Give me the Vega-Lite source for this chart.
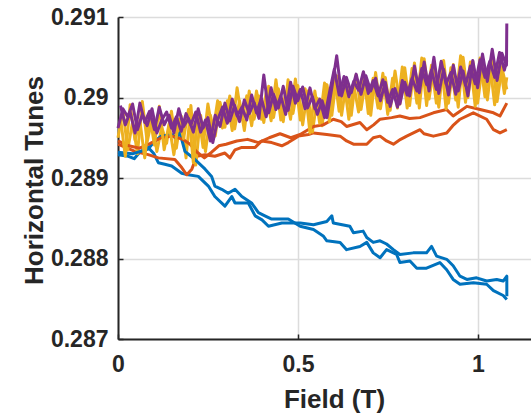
{
  "$schema": "https://vega.github.io/schema/vega-lite/v6.json",
  "autosize": "none",
  "width": 413,
  "height": 322,
  "padding": {"left": 118, "top": 17, "right": 0, "bottom": 75},
  "background": "white",
  "view": {"stroke": null},
  "config": {
    "font": "Liberation Sans",
    "axis": {
      "domainColor": "#262626", "domainWidth": 2,
      "gridColor": "#dcdcdc", "gridWidth": 1.5,
      "tickColor": "#262626", "tickWidth": 1.5, "tickSize": -5,
      "labelColor": "#262626", "labelFont": "Liberation Sans", "labelFontWeight": "bold", "labelFontSize": 23,
      "titleColor": "#262626", "titleFont": "Liberation Sans", "titleFontWeight": "bold", "titleFontSize": 26
    }
  },
  "datasets": {
    "d": [
      {"t":"B1","x":0.000,"y":0.28929},{"t":"B1","x":0.029,"y":0.28927},{"t":"B1","x":0.045,"y":0.28924},{"t":"B1","x":0.060,"y":0.28932},{"t":"B1","x":0.084,"y":0.28938},{"t":"B1","x":0.100,"y":0.28930},{"t":"B1","x":0.112,"y":0.28919},{"t":"B1","x":0.130,"y":0.28917},{"t":"B1","x":0.149,"y":0.28915},{"t":"B1","x":0.177,"y":0.28906},{"t":"B1","x":0.195,"y":0.28904},{"t":"B1","x":0.223,"y":0.28902},{"t":"B1","x":0.251,"y":0.28890},{"t":"B1","x":0.269,"y":0.28877},{"t":"B1","x":0.297,"y":0.28865},{"t":"B1","x":0.316,"y":0.28877},{"t":"B1","x":0.325,"y":0.28869},{"t":"B1","x":0.362,"y":0.28869},{"t":"B1","x":0.381,"y":0.28853},{"t":"B1","x":0.400,"y":0.28848},{"t":"B1","x":0.418,"y":0.28840},{"t":"B1","x":0.455,"y":0.28844},{"t":"B1","x":0.506,"y":0.28844},{"t":"B1","x":0.543,"y":0.28842},{"t":"B1","x":0.580,"y":0.28846},{"t":"B1","x":0.594,"y":0.28853},{"t":"B1","x":0.598,"y":0.28844},{"t":"B1","x":0.644,"y":0.28840},{"t":"B1","x":0.654,"y":0.28832},{"t":"B1","x":0.681,"y":0.28834},{"t":"B1","x":0.691,"y":0.28826},{"t":"B1","x":0.709,"y":0.28820},{"t":"B1","x":0.728,"y":0.28822},{"t":"B1","x":0.746,"y":0.28818},{"t":"B1","x":0.765,"y":0.28811},{"t":"B1","x":0.783,"y":0.28805},{"t":"B1","x":0.820,"y":0.28807},{"t":"B1","x":0.857,"y":0.28807},{"t":"B1","x":0.871,"y":0.28815},{"t":"B1","x":0.885,"y":0.28803},{"t":"B1","x":0.913,"y":0.28799},{"t":"B1","x":0.931,"y":0.28791},{"t":"B1","x":0.950,"y":0.28778},{"t":"B1","x":0.969,"y":0.28774},{"t":"B1","x":0.996,"y":0.28776},{"t":"B1","x":1.024,"y":0.28772},{"t":"B1","x":1.052,"y":0.28774},{"t":"B1","x":1.070,"y":0.28772},{"t":"B1","x":1.080,"y":0.28778},{"t":"B1","x":1.0801,"y":0.28753},
      {"t":"O1","x":0.000,"y":0.28942},{"t":"O1","x":0.047,"y":0.28933},{"t":"O1","x":0.084,"y":0.28929},{"t":"O1","x":0.112,"y":0.28925},{"t":"O1","x":0.158,"y":0.28923},{"t":"O1","x":0.177,"y":0.28913},{"t":"O1","x":0.191,"y":0.28904},{"t":"O1","x":0.205,"y":0.28911},{"t":"O1","x":0.219,"y":0.28927},{"t":"O1","x":0.242,"y":0.28929},{"t":"O1","x":0.269,"y":0.28927},{"t":"O1","x":0.297,"y":0.28931},{"t":"O1","x":0.311,"y":0.28925},{"t":"O1","x":0.325,"y":0.28935},{"t":"O1","x":0.344,"y":0.28938},{"t":"O1","x":0.381,"y":0.28938},{"t":"O1","x":0.399,"y":0.28946},{"t":"O1","x":0.427,"y":0.28944},{"t":"O1","x":0.455,"y":0.28940},{"t":"O1","x":0.473,"y":0.28944},{"t":"O1","x":0.501,"y":0.28952},{"t":"O1","x":0.529,"y":0.28954},{"t":"O1","x":0.543,"y":0.28956},{"t":"O1","x":0.580,"y":0.28954},{"t":"O1","x":0.617,"y":0.28952},{"t":"O1","x":0.635,"y":0.28946},{"t":"O1","x":0.654,"y":0.28942},{"t":"O1","x":0.691,"y":0.28942},{"t":"O1","x":0.709,"y":0.28950},{"t":"O1","x":0.728,"y":0.28952},{"t":"O1","x":0.746,"y":0.28946},{"t":"O1","x":0.765,"y":0.28942},{"t":"O1","x":0.785,"y":0.28948},{"t":"O1","x":0.802,"y":0.28952},{"t":"O1","x":0.839,"y":0.28960},{"t":"O1","x":0.850,"y":0.28955},{"t":"O1","x":0.876,"y":0.28952},{"t":"O1","x":0.913,"y":0.28956},{"t":"O1","x":0.930,"y":0.28965},{"t":"O1","x":0.950,"y":0.28973},{"t":"O1","x":0.987,"y":0.28981},{"t":"O1","x":1.024,"y":0.28973},{"t":"O1","x":1.043,"y":0.28960},{"t":"O1","x":1.061,"y":0.28956},{"t":"O1","x":1.080,"y":0.28960},
      {"t":"Y1","x":0.0000,"y":0.28950},{"t":"Y1","x":0.0135,"y":0.28985},{"t":"Y1","x":0.0270,"y":0.28935},{"t":"Y1","x":0.0405,"y":0.28970},{"t":"Y1","x":0.0540,"y":0.28930},{"t":"Y1","x":0.0675,"y":0.28995},{"t":"Y1","x":0.0810,"y":0.28945},{"t":"Y1","x":0.0945,"y":0.28973},{"t":"Y1","x":0.1080,"y":0.28933},{"t":"Y1","x":0.1215,"y":0.28963},{"t":"Y1","x":0.1350,"y":0.28943},{"t":"Y1","x":0.1485,"y":0.28983},{"t":"Y1","x":0.1620,"y":0.28937},{"t":"Y1","x":0.1755,"y":0.28977},{"t":"Y1","x":0.1890,"y":0.28925},{"t":"Y1","x":0.2025,"y":0.28990},{"t":"Y1","x":0.2160,"y":0.28916},{"t":"Y1","x":0.2295,"y":0.28978},{"t":"Y1","x":0.2430,"y":0.28933},{"t":"Y1","x":0.2565,"y":0.28978},{"t":"Y1","x":0.2700,"y":0.28952},{"t":"Y1","x":0.2835,"y":0.28994},{"t":"Y1","x":0.2970,"y":0.28963},{"t":"Y1","x":0.3105,"y":0.29002},{"t":"Y1","x":0.3240,"y":0.28961},{"t":"Y1","x":0.3375,"y":0.28996},{"t":"Y1","x":0.3510,"y":0.28959},{"t":"Y1","x":0.3645,"y":0.29008},{"t":"Y1","x":0.3780,"y":0.28973},{"t":"Y1","x":0.3915,"y":0.29002},{"t":"Y1","x":0.4050,"y":0.28969},{"t":"Y1","x":0.4185,"y":0.29014},{"t":"Y1","x":0.4320,"y":0.28975},{"t":"Y1","x":0.4455,"y":0.29011},{"t":"Y1","x":0.4590,"y":0.28970},{"t":"Y1","x":0.4725,"y":0.29022},{"t":"Y1","x":0.4860,"y":0.28980},{"t":"Y1","x":0.4995,"y":0.29015},{"t":"Y1","x":0.5130,"y":0.28966},{"t":"Y1","x":0.5265,"y":0.29008},{"t":"Y1","x":0.5400,"y":0.28957},{"t":"Y1","x":0.5535,"y":0.28999},{"t":"Y1","x":0.5670,"y":0.28965},{"t":"Y1","x":0.5805,"y":0.29016},{"t":"Y1","x":0.5940,"y":0.28978},{"t":"Y1","x":0.6075,"y":0.29027},{"t":"Y1","x":0.6210,"y":0.28978},{"t":"Y1","x":0.6345,"y":0.29019},{"t":"Y1","x":0.6480,"y":0.28978},{"t":"Y1","x":0.6615,"y":0.29028},{"t":"Y1","x":0.6750,"y":0.28985},{"t":"Y1","x":0.6885,"y":0.29023},{"t":"Y1","x":0.7020,"y":0.28978},{"t":"Y1","x":0.7155,"y":0.29031},{"t":"Y1","x":0.7290,"y":0.28986},{"t":"Y1","x":0.7425,"y":0.29025},{"t":"Y1","x":0.7560,"y":0.28984},{"t":"Y1","x":0.7695,"y":0.29033},{"t":"Y1","x":0.7830,"y":0.28992},{"t":"Y1","x":0.7965,"y":0.29037},{"t":"Y1","x":0.8100,"y":0.28990},{"t":"Y1","x":0.8235,"y":0.29043},{"t":"Y1","x":0.8370,"y":0.28987},{"t":"Y1","x":0.8505,"y":0.29048},{"t":"Y1","x":0.8640,"y":0.28998},{"t":"Y1","x":0.8775,"y":0.29037},{"t":"Y1","x":0.8910,"y":0.28988},{"t":"Y1","x":0.9045,"y":0.29046},{"t":"Y1","x":0.9180,"y":0.28993},{"t":"Y1","x":0.9315,"y":0.29041},{"t":"Y1","x":0.9450,"y":0.28988},{"t":"Y1","x":0.9585,"y":0.29050},{"t":"Y1","x":0.9720,"y":0.29000},{"t":"Y1","x":0.9855,"y":0.29045},{"t":"Y1","x":0.9990,"y":0.28993},{"t":"Y1","x":1.0125,"y":0.29041},{"t":"Y1","x":1.0260,"y":0.28997},{"t":"Y1","x":1.0395,"y":0.29047},{"t":"Y1","x":1.0530,"y":0.28995},{"t":"Y1","x":1.0665,"y":0.29037},{"t":"Y1","x":1.0800,"y":0.29010},
      {"t":"P1","x":0.0000,"y":0.28962},{"t":"P1","x":0.0135,"y":0.28986},{"t":"P1","x":0.0270,"y":0.28976},{"t":"P1","x":0.0405,"y":0.28992},{"t":"P1","x":0.0540,"y":0.28960},{"t":"P1","x":0.0675,"y":0.28979},{"t":"P1","x":0.0810,"y":0.28965},{"t":"P1","x":0.0945,"y":0.28986},{"t":"P1","x":0.1080,"y":0.28956},{"t":"P1","x":0.1215,"y":0.28972},{"t":"P1","x":0.1350,"y":0.28982},{"t":"P1","x":0.1485,"y":0.28962},{"t":"P1","x":0.1620,"y":0.28976},{"t":"P1","x":0.1755,"y":0.28958},{"t":"P1","x":0.1890,"y":0.28980},{"t":"P1","x":0.2025,"y":0.28966},{"t":"P1","x":0.2160,"y":0.28982},{"t":"P1","x":0.2295,"y":0.28957},{"t":"P1","x":0.2430,"y":0.28972},{"t":"P1","x":0.2565,"y":0.28946},{"t":"P1","x":0.2700,"y":0.28978},{"t":"P1","x":0.2835,"y":0.28964},{"t":"P1","x":0.2970,"y":0.28993},{"t":"P1","x":0.3105,"y":0.28971},{"t":"P1","x":0.3240,"y":0.28990},{"t":"P1","x":0.3375,"y":0.28970},{"t":"P1","x":0.3510,"y":0.28997},{"t":"P1","x":0.3645,"y":0.28980},{"t":"P1","x":0.3780,"y":0.28994},{"t":"P1","x":0.3915,"y":0.28974},{"t":"P1","x":0.4050,"y":0.29028},{"t":"P1","x":0.4185,"y":0.28981},{"t":"P1","x":0.4320,"y":0.29004},{"t":"P1","x":0.4455,"y":0.28987},{"t":"P1","x":0.4590,"y":0.29014},{"t":"P1","x":0.4725,"y":0.28984},{"t":"P1","x":0.4860,"y":0.29014},{"t":"P1","x":0.4995,"y":0.28996},{"t":"P1","x":0.5130,"y":0.29013},{"t":"P1","x":0.5265,"y":0.28987},{"t":"P1","x":0.5400,"y":0.29001},{"t":"P1","x":0.5535,"y":0.28979},{"t":"P1","x":0.5670,"y":0.28996},{"t":"P1","x":0.5805,"y":0.28975},{"t":"P1","x":0.5940,"y":0.29012},{"t":"P1","x":0.6075,"y":0.29052},{"t":"P1","x":0.6210,"y":0.29002},{"t":"P1","x":0.6345,"y":0.29025},{"t":"P1","x":0.6480,"y":0.29006},{"t":"P1","x":0.6615,"y":0.29029},{"t":"P1","x":0.6750,"y":0.29004},{"t":"P1","x":0.6885,"y":0.29027},{"t":"P1","x":0.7020,"y":0.29008},{"t":"P1","x":0.7155,"y":0.29024},{"t":"P1","x":0.7290,"y":0.28996},{"t":"P1","x":0.7425,"y":0.29019},{"t":"P1","x":0.7560,"y":0.28989},{"t":"P1","x":0.7695,"y":0.29011},{"t":"P1","x":0.7830,"y":0.28992},{"t":"P1","x":0.7965,"y":0.29019},{"t":"P1","x":0.8100,"y":0.29002},{"t":"P1","x":0.8235,"y":0.29039},{"t":"P1","x":0.8370,"y":0.29006},{"t":"P1","x":0.8505,"y":0.29044},{"t":"P1","x":0.8640,"y":0.29008},{"t":"P1","x":0.8775,"y":0.29050},{"t":"P1","x":0.8910,"y":0.29005},{"t":"P1","x":0.9045,"y":0.29035},{"t":"P1","x":0.9180,"y":0.29003},{"t":"P1","x":0.9315,"y":0.29040},{"t":"P1","x":0.9450,"y":0.29008},{"t":"P1","x":0.9585,"y":0.29033},{"t":"P1","x":0.9720,"y":0.29002},{"t":"P1","x":0.9855,"y":0.29046},{"t":"P1","x":0.9990,"y":0.29012},{"t":"P1","x":1.0125,"y":0.29054},{"t":"P1","x":1.0260,"y":0.29020},{"t":"P1","x":1.0395,"y":0.29060},{"t":"P1","x":1.0530,"y":0.29021},{"t":"P1","x":1.0665,"y":0.29055},{"t":"P1","x":1.0790,"y":0.29040},{"t":"P1","x":1.0800,"y":0.29092},
      {"t":"B2","x":0.000,"y":0.28932},{"t":"B2","x":0.040,"y":0.28930},{"t":"B2","x":0.084,"y":0.28936},{"t":"B2","x":0.100,"y":0.28945},{"t":"B2","x":0.120,"y":0.28952},{"t":"B2","x":0.149,"y":0.28954},{"t":"B2","x":0.160,"y":0.28950},{"t":"B2","x":0.172,"y":0.28956},{"t":"B2","x":0.186,"y":0.28933},{"t":"B2","x":0.214,"y":0.28923},{"t":"B2","x":0.242,"y":0.28911},{"t":"B2","x":0.260,"y":0.28902},{"t":"B2","x":0.269,"y":0.28890},{"t":"B2","x":0.288,"y":0.28886},{"t":"B2","x":0.306,"y":0.28881},{"t":"B2","x":0.325,"y":0.28886},{"t":"B2","x":0.344,"y":0.28877},{"t":"B2","x":0.371,"y":0.28869},{"t":"B2","x":0.390,"y":0.28857},{"t":"B2","x":0.408,"y":0.28853},{"t":"B2","x":0.427,"y":0.28849},{"t":"B2","x":0.473,"y":0.28849},{"t":"B2","x":0.506,"y":0.28840},{"t":"B2","x":0.543,"y":0.28836},{"t":"B2","x":0.570,"y":0.28828},{"t":"B2","x":0.580,"y":0.28822},{"t":"B2","x":0.617,"y":0.28820},{"t":"B2","x":0.635,"y":0.28811},{"t":"B2","x":0.672,"y":0.28815},{"t":"B2","x":0.691,"y":0.28820},{"t":"B2","x":0.709,"y":0.28807},{"t":"B2","x":0.728,"y":0.28801},{"t":"B2","x":0.746,"y":0.28811},{"t":"B2","x":0.774,"y":0.28805},{"t":"B2","x":0.783,"y":0.28795},{"t":"B2","x":0.811,"y":0.28797},{"t":"B2","x":0.830,"y":0.28788},{"t":"B2","x":0.857,"y":0.28788},{"t":"B2","x":0.894,"y":0.28795},{"t":"B2","x":0.913,"y":0.28786},{"t":"B2","x":0.931,"y":0.28774},{"t":"B2","x":0.950,"y":0.28768},{"t":"B2","x":0.987,"y":0.28770},{"t":"B2","x":1.024,"y":0.28768},{"t":"B2","x":1.043,"y":0.28760},{"t":"B2","x":1.070,"y":0.28754},{"t":"B2","x":1.080,"y":0.28749},
      {"t":"O2","x":0.000,"y":0.28946},{"t":"O2","x":0.030,"y":0.28940},{"t":"O2","x":0.060,"y":0.28937},{"t":"O2","x":0.090,"y":0.28943},{"t":"O2","x":0.120,"y":0.28950},{"t":"O2","x":0.150,"y":0.28952},{"t":"O2","x":0.180,"y":0.28948},{"t":"O2","x":0.200,"y":0.28942},{"t":"O2","x":0.220,"y":0.28932},{"t":"O2","x":0.240,"y":0.28925},{"t":"O2","x":0.260,"y":0.28932},{"t":"O2","x":0.280,"y":0.28940},{"t":"O2","x":0.300,"y":0.28942},{"t":"O2","x":0.330,"y":0.28946},{"t":"O2","x":0.360,"y":0.28948},{"t":"O2","x":0.390,"y":0.28944},{"t":"O2","x":0.420,"y":0.28950},{"t":"O2","x":0.450,"y":0.28955},{"t":"O2","x":0.480,"y":0.28950},{"t":"O2","x":0.506,"y":0.28954},{"t":"O2","x":0.543,"y":0.28964},{"t":"O2","x":0.570,"y":0.28966},{"t":"O2","x":0.598,"y":0.28973},{"t":"O2","x":0.620,"y":0.28970},{"t":"O2","x":0.635,"y":0.28964},{"t":"O2","x":0.672,"y":0.28969},{"t":"O2","x":0.691,"y":0.28960},{"t":"O2","x":0.710,"y":0.28966},{"t":"O2","x":0.728,"y":0.28973},{"t":"O2","x":0.760,"y":0.28975},{"t":"O2","x":0.783,"y":0.28977},{"t":"O2","x":0.810,"y":0.28974},{"t":"O2","x":0.839,"y":0.28975},{"t":"O2","x":0.876,"y":0.28981},{"t":"O2","x":0.913,"y":0.28985},{"t":"O2","x":0.931,"y":0.28977},{"t":"O2","x":0.950,"y":0.28983},{"t":"O2","x":0.969,"y":0.28989},{"t":"O2","x":1.006,"y":0.28985},{"t":"O2","x":1.043,"y":0.28981},{"t":"O2","x":1.061,"y":0.28977},{"t":"O2","x":1.080,"y":0.28993},
      {"t":"Y2","x":0.00675,"y":0.28975},{"t":"Y2","x":0.02025,"y":0.28927},{"t":"Y2","x":0.03375,"y":0.28991},{"t":"Y2","x":0.04725,"y":0.28947},{"t":"Y2","x":0.06075,"y":0.28971},{"t":"Y2","x":0.07425,"y":0.28925},{"t":"Y2","x":0.08775,"y":0.28979},{"t":"Y2","x":0.10125,"y":0.28941},{"t":"Y2","x":0.11475,"y":0.28989},{"t":"Y2","x":0.12825,"y":0.28935},{"t":"Y2","x":0.14175,"y":0.28967},{"t":"Y2","x":0.15525,"y":0.28929},{"t":"Y2","x":0.16875,"y":0.28973},{"t":"Y2","x":0.18225,"y":0.28949},{"t":"Y2","x":0.19575,"y":0.28985},{"t":"Y2","x":0.20925,"y":0.28919},{"t":"Y2","x":0.22275,"y":0.28983},{"t":"Y2","x":0.23625,"y":0.28938},{"t":"Y2","x":0.24975,"y":0.28992},{"t":"Y2","x":0.26325,"y":0.28956},{"t":"Y2","x":0.27675,"y":0.28996},{"t":"Y2","x":0.29025,"y":0.28962},{"t":"Y2","x":0.30375,"y":0.28996},{"t":"Y2","x":0.31725,"y":0.28959},{"t":"Y2","x":0.33075,"y":0.29012},{"t":"Y2","x":0.34425,"y":0.28973},{"t":"Y2","x":0.35775,"y":0.29002},{"t":"Y2","x":0.37125,"y":0.28965},{"t":"Y2","x":0.38475,"y":0.29008},{"t":"Y2","x":0.39825,"y":0.28973},{"t":"Y2","x":0.41175,"y":0.29006},{"t":"Y2","x":0.42525,"y":0.28971},{"t":"Y2","x":0.43875,"y":0.29022},{"t":"Y2","x":0.45225,"y":0.28972},{"t":"Y2","x":0.46575,"y":0.29007},{"t":"Y2","x":0.47925,"y":0.28973},{"t":"Y2","x":0.49275,"y":0.29023},{"t":"Y2","x":0.50625,"y":0.28972},{"t":"Y2","x":0.51975,"y":0.29011},{"t":"Y2","x":0.53325,"y":0.28956},{"t":"Y2","x":0.54675,"y":0.29008},{"t":"Y2","x":0.56025,"y":0.28968},{"t":"Y2","x":0.57375,"y":0.29018},{"t":"Y2","x":0.58725,"y":0.28970},{"t":"Y2","x":0.60075,"y":0.29029},{"t":"Y2","x":0.61425,"y":0.28983},{"t":"Y2","x":0.62775,"y":0.29020},{"t":"Y2","x":0.64125,"y":0.28973},{"t":"Y2","x":0.65475,"y":0.29016},{"t":"Y2","x":0.66825,"y":0.28982},{"t":"Y2","x":0.68175,"y":0.29031},{"t":"Y2","x":0.69525,"y":0.28980},{"t":"Y2","x":0.70875,"y":0.29024},{"t":"Y2","x":0.72225,"y":0.28987},{"t":"Y2","x":0.73575,"y":0.29030},{"t":"Y2","x":0.74925,"y":0.28979},{"t":"Y2","x":0.76275,"y":0.29024},{"t":"Y2","x":0.77625,"y":0.28987},{"t":"Y2","x":0.78975,"y":0.29038},{"t":"Y2","x":0.80325,"y":0.28987},{"t":"Y2","x":0.81675,"y":0.29036},{"t":"Y2","x":0.83025,"y":0.28993},{"t":"Y2","x":0.84375,"y":0.29049},{"t":"Y2","x":0.85725,"y":0.28990},{"t":"Y2","x":0.87075,"y":0.29040},{"t":"Y2","x":0.88425,"y":0.28993},{"t":"Y2","x":0.89775,"y":0.29044},{"t":"Y2","x":0.91125,"y":0.28986},{"t":"Y2","x":0.92475,"y":0.29037},{"t":"Y2","x":0.93825,"y":0.28997},{"t":"Y2","x":0.95175,"y":0.29052},{"t":"Y2","x":0.96525,"y":0.28994},{"t":"Y2","x":0.97875,"y":0.29044},{"t":"Y2","x":0.99225,"y":0.28989},{"t":"Y2","x":1.00575,"y":0.29049},{"t":"Y2","x":1.01925,"y":0.29001},{"t":"Y2","x":1.03275,"y":0.29043},{"t":"Y2","x":1.04625,"y":0.28991},{"t":"Y2","x":1.05975,"y":0.29045},{"t":"Y2","x":1.07325,"y":0.29005},{"t":"Y2","x":1.08000,"y":0.29025},
      {"t":"P2","x":0.00675,"y":0.28990},{"t":"P2","x":0.02025,"y":0.28966},{"t":"P2","x":0.03375,"y":0.28982},{"t":"P2","x":0.04725,"y":0.28956},{"t":"P2","x":0.06075,"y":0.28993},{"t":"P2","x":0.07425,"y":0.28969},{"t":"P2","x":0.08775,"y":0.28983},{"t":"P2","x":0.10125,"y":0.28960},{"t":"P2","x":0.11475,"y":0.28988},{"t":"P2","x":0.12825,"y":0.28966},{"t":"P2","x":0.14175,"y":0.28978},{"t":"P2","x":0.15525,"y":0.28956},{"t":"P2","x":0.16875,"y":0.28986},{"t":"P2","x":0.18225,"y":0.28964},{"t":"P2","x":0.19575,"y":0.28974},{"t":"P2","x":0.20925,"y":0.28957},{"t":"P2","x":0.22275,"y":0.28986},{"t":"P2","x":0.23625,"y":0.28962},{"t":"P2","x":0.24975,"y":0.28975},{"t":"P2","x":0.26325,"y":0.28944},{"t":"P2","x":0.27675,"y":0.28972},{"t":"P2","x":0.29025,"y":0.28988},{"t":"P2","x":0.30375,"y":0.28968},{"t":"P2","x":0.31725,"y":0.28998},{"t":"P2","x":0.33075,"y":0.28977},{"t":"P2","x":0.34425,"y":0.28988},{"t":"P2","x":0.35775,"y":0.28972},{"t":"P2","x":0.37125,"y":0.29003},{"t":"P2","x":0.38475,"y":0.28981},{"t":"P2","x":0.39825,"y":0.28999},{"t":"P2","x":0.41175,"y":0.28976},{"t":"P2","x":0.42525,"y":0.29012},{"t":"P2","x":0.43875,"y":0.28985},{"t":"P2","x":0.45225,"y":0.29002},{"t":"P2","x":0.46575,"y":0.28979},{"t":"P2","x":0.47925,"y":0.29019},{"t":"P2","x":0.49275,"y":0.28993},{"t":"P2","x":0.50625,"y":0.29010},{"t":"P2","x":0.51975,"y":0.28986},{"t":"P2","x":0.53325,"y":0.29012},{"t":"P2","x":0.54675,"y":0.28986},{"t":"P2","x":0.56025,"y":0.28998},{"t":"P2","x":0.57375,"y":0.28975},{"t":"P2","x":0.58725,"y":0.29006},{"t":"P2","x":0.60075,"y":0.29035},{"t":"P2","x":0.61425,"y":0.29003},{"t":"P2","x":0.62775,"y":0.29026},{"t":"P2","x":0.64125,"y":0.29001},{"t":"P2","x":0.65475,"y":0.29020},{"t":"P2","x":0.66825,"y":0.29009},{"t":"P2","x":0.68175,"y":0.29032},{"t":"P2","x":0.69525,"y":0.29005},{"t":"P2","x":0.70875,"y":0.29021},{"t":"P2","x":0.72225,"y":0.29002},{"t":"P2","x":0.73575,"y":0.29022},{"t":"P2","x":0.74925,"y":0.28994},{"t":"P2","x":0.76275,"y":0.29010},{"t":"P2","x":0.77625,"y":0.28988},{"t":"P2","x":0.78975,"y":0.29021},{"t":"P2","x":0.80325,"y":0.29003},{"t":"P2","x":0.81675,"y":0.29024},{"t":"P2","x":0.83025,"y":0.29008},{"t":"P2","x":0.84375,"y":0.29036},{"t":"P2","x":0.85725,"y":0.29016},{"t":"P2","x":0.87075,"y":0.29034},{"t":"P2","x":0.88425,"y":0.29010},{"t":"P2","x":0.89775,"y":0.29045},{"t":"P2","x":0.91125,"y":0.29017},{"t":"P2","x":0.92475,"y":0.29031},{"t":"P2","x":0.93825,"y":0.29004},{"t":"P2","x":0.95175,"y":0.29038},{"t":"P2","x":0.96525,"y":0.29015},{"t":"P2","x":0.97875,"y":0.29039},{"t":"P2","x":0.99225,"y":0.29017},{"t":"P2","x":1.00575,"y":0.29047},{"t":"P2","x":1.01925,"y":0.29025},{"t":"P2","x":1.03275,"y":0.29045},{"t":"P2","x":1.04625,"y":0.29025},{"t":"P2","x":1.05975,"y":0.29056},{"t":"P2","x":1.07325,"y":0.29034},{"t":"P2","x":1.08000,"y":0.29046}
    ]
  },
  "layer": [
    {
      "data": {"name": "d"},
      "encoding": {
        "x": {"field": "x", "type": "quantitative",
          "scale": {"domain": [0, 1.1472], "nice": false, "zero": false},
          "axis": {"values": [0, 0.5, 1], "format": "~g", "title": "Field (T)", "labelPadding": 19,
                   "labelBaseline": "top", "labelFlush": false,
                   "titleX": 216, "titleY": 68, "titleAlign": "center", "titleBaseline": "alphabetic", "titleAnchor": null}},
        "y": {"field": "y", "type": "quantitative",
          "scale": {"domain": [0.287, 0.291], "nice": false, "zero": false},
          "axis": {"values": [0.287, 0.288, 0.289, 0.29, 0.291], "format": ".3~f", "title": "Horizontal Tunes",
                   "labelPadding": 15, "labelFlush": false,
                   "titleX": -76, "titleY": 163, "titleAngle": 270, "titleAlign": "center", "titleBaseline": "alphabetic", "titleAnchor": null}}
      },
      "layer": [
        {"transform": [{"filter": "datum.t == 'B1'"}], "mark": {"type": "line", "color": "#0072BD", "strokeWidth": 3, "strokeJoin": "round"}},
        {"transform": [{"filter": "datum.t == 'O1'"}], "mark": {"type": "line", "color": "#D95319", "strokeWidth": 3, "strokeJoin": "round"}},
        {"transform": [{"filter": "datum.t == 'Y1'"}], "mark": {"type": "line", "color": "#EDB120", "strokeWidth": 3, "strokeJoin": "round"}},
        {"transform": [{"filter": "datum.t == 'B2'"}], "mark": {"type": "line", "color": "#0072BD", "strokeWidth": 3, "strokeJoin": "round"}},
        {"transform": [{"filter": "datum.t == 'O2'"}], "mark": {"type": "line", "color": "#D95319", "strokeWidth": 3, "strokeJoin": "round"}},
        {"transform": [{"filter": "datum.t == 'Y2'"}], "mark": {"type": "line", "color": "#EDB120", "strokeWidth": 3, "strokeJoin": "round"}},
        {"transform": [{"filter": "datum.t == 'P1'"}], "mark": {"type": "line", "color": "#7E2F8E", "strokeWidth": 3, "strokeJoin": "round"}},
        {"transform": [{"filter": "datum.t == 'P2'"}], "mark": {"type": "line", "color": "#7E2F8E", "strokeWidth": 3, "strokeJoin": "round"}}
      ]
    },
    {
      "mark": {"type": "rule", "color": "#262626", "strokeWidth": 2},
      "encoding": {"y": {"datum": 0.291}}
    }
  ]
}
